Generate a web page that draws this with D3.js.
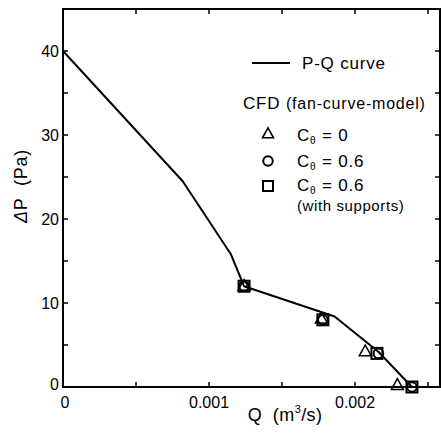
<!DOCTYPE html>
<html><head><meta charset="utf-8">
<script src="https://cdn.jsdelivr.net/npm/d3@7"></script>
<style>body{margin:0;background:#fff}svg{display:block}text{font-family:"Liberation Sans",Arial,sans-serif;fill:#000;white-space:pre}</style>
</head><body><svg id="c" width="441" height="434"></svg>
<script>
const curveQ = [0, 0.00082, 0.00115, 0.00124, 0.00186, 0.00216, 0.00239];
const curveP = [40, 24.5, 15.8, 12, 8.4, 4.2, 0];
const triQ = [0.00124, 0.00177, 0.00207, 0.00229];
const triP = [12, 8.1, 4.2, 0.2];
const cirQ = [0.00124, 0.00178, 0.00216, 0.00239];
const cirP = [12, 8, 4, 0];
const sqQ = [0.00124, 0.00178, 0.00215, 0.00239];
const sqP = [12, 8, 4, 0];
const xMajor = [0, 0.001, 0.002];
const xMinor = [0.0005, 0.0015, 0.0025];
const yMajor = [0, 10, 20, 30, 40];
const yMinor = [5, 15, 25, 35];

const svg = d3.select("#c");
const L = 63, R = 440, T = 9, B = 387;
const x = d3.scaleLinear().domain([0, 0.002582]).range([L, R]);
const y = d3.scaleLinear().domain([0, 45]).range([B, T]);

svg.append("rect").attr("x", L).attr("y", T).attr("width", R - L).attr("height", B - T)
  .attr("fill", "none").attr("stroke", "#000").attr("stroke-width", 2);

const tk = 5;
const g = svg.append("g").attr("stroke", "#000").attr("stroke-width", 1.5);
xMajor.concat(xMinor).forEach(v => {
  if (v === 0) return;
  g.append("line").attr("x1", x(v)).attr("x2", x(v)).attr("y1", B).attr("y2", B - tk);
  g.append("line").attr("x1", x(v)).attr("x2", x(v)).attr("y1", T).attr("y2", T + tk);
});
yMajor.concat(yMinor).forEach(v => {
  if (v === 0) return;
  g.append("line").attr("y1", y(v)).attr("y2", y(v)).attr("x1", L).attr("x2", L + tk);
  g.append("line").attr("y1", y(v)).attr("y2", y(v)).attr("x1", R).attr("x2", R - tk);
});

const fmtX = d => d === 0 ? "0" : d3.format(".3f")(d);
xMajor.forEach(v => {
  svg.append("text").attr("x", x(v) + (v === 0 ? 2 : 0)).attr("y", 408).attr("text-anchor", "middle")
    .attr("font-size", 16).text(fmtX(v));
});
yMajor.forEach(v => {
  svg.append("text").attr("x", 59).attr("y", y(v) + (v === 0 ? 3 : 6)).attr("text-anchor", "end")
    .attr("font-size", 16).text(v);
});

const xt = svg.append("text").attr("x", 285).attr("y", 421).attr("text-anchor", "middle")
  .attr("font-size", 18).attr("letter-spacing", 0.4);
xt.append("tspan").text("Q  (m");
xt.append("tspan").attr("font-size", 11).attr("dy", -8).text("3");
xt.append("tspan").attr("dy", 8).text("/s)");

const yt = svg.append("text").attr("transform", "translate(27,186) rotate(-90)").attr("text-anchor", "middle")
  .attr("font-size", 18).attr("letter-spacing", 0.8);
yt.append("tspan").attr("font-style", "italic").text("Δ");
yt.append("tspan").text("P  (Pa)");

const pts = curveQ.map((q, i) => [q, curveP[i]]);
svg.append("path").datum(pts).attr("fill", "none").attr("stroke", "#000").attr("stroke-width", 2)
  .attr("stroke-linejoin", "round")
  .attr("d", d3.line().x(d => x(d[0])).y(d => y(d[1])));

function tri(cx, cy, s) {
  const h = s * 0.9;
  return `M${cx},${cy - h * 0.62}L${cx + s / 2},${cy + h * 0.38}L${cx - s / 2},${cy + h * 0.38}Z`;
}
const mk = svg.append("g").attr("fill", "none").attr("stroke", "#000").attr("stroke-width", 2);
sqQ.forEach((q, i) => {
  mk.append("rect").attr("x", x(q) - 5.5).attr("y", y(sqP[i]) - 5.5).attr("width", 11).attr("height", 11);
});
cirQ.forEach((q, i) => {
  mk.append("circle").attr("cx", x(q)).attr("cy", y(cirP[i])).attr("r", 4.8);
});
triQ.forEach((q, i) => {
  mk.append("path").attr("d", tri(x(q), y(triP[i]), 12)).attr("stroke-width", 1.5);
});

svg.append("line").attr("x1", 252).attr("x2", 290).attr("y1", 63).attr("y2", 63).attr("stroke", "#000").attr("stroke-width", 2);
svg.append("text").attr("x", 302).attr("y", 69).attr("font-size", 17).attr("letter-spacing", 0.8).text("P-Q curve");
const cfd = svg.append("text").attr("x", 243).attr("y", 109).attr("font-size", 17).attr("letter-spacing", 0.8);
cfd.append("tspan").text("CFD ");
cfd.append("tspan").attr("font-size", 16).text("(fan-curve-model)");

const lx = 268;
const lg = svg.append("g").attr("fill", "none").attr("stroke", "#000").attr("stroke-width", 2);
lg.append("path").attr("d", tri(lx, 134, 11)).attr("stroke-width", 1.6);
lg.append("circle").attr("cx", lx).attr("cy", 161).attr("r", 4.8);
lg.append("rect").attr("x", lx - 5).attr("y", 181).attr("width", 10).attr("height", 10);

const labels = [["0", 141], ["0.6", 167], ["0.6", 191]];
labels.forEach(([v, yy]) => {
  const t = svg.append("text").attr("x", 297).attr("y", yy).attr("font-size", 17).attr("letter-spacing", 0.8);
  t.append("tspan").text("C");
  t.append("tspan").attr("font-size", 10).attr("dy", 3).text("θ");
  t.append("tspan").attr("dy", -3).text(" = " + v);
});
svg.append("text").attr("x", 297).attr("y", 211).attr("font-size", 15).attr("letter-spacing", 0.6).text("(with supports)");
</script></body></html>
